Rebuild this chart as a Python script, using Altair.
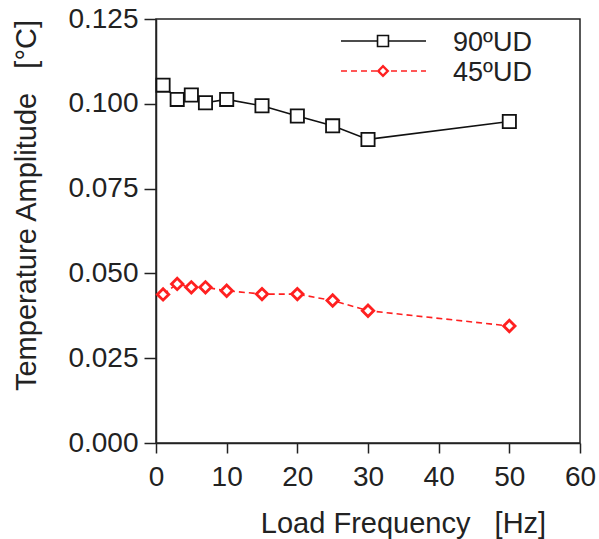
import altair as alt
import pandas as pd

freq = [1, 3, 5, 7, 10, 15, 20, 25, 30, 50]
ud90 = [0.1055, 0.1013, 0.1026, 0.1003, 0.1013, 0.0994, 0.0964, 0.0935, 0.0895, 0.0948]
ud45 = [0.0438, 0.0469, 0.0459, 0.0459, 0.0449, 0.0439, 0.0439, 0.0420, 0.0390, 0.0345]
series_names = ["90ºUD", "45ºUD"]
x_ticks = [0, 10, 20, 30, 40, 50, 60]
y_ticks = [0.0, 0.025, 0.05, 0.075, 0.1, 0.125]

FONT = "Liberation Sans"
TXT = "#222222"
NB = "\u00a0"

df90 = pd.DataFrame({"f": freq, "amp": ud90, "series": series_names[0]})
df45 = pd.DataFrame({"f": freq, "amp": ud45, "series": series_names[1]})

xenc = alt.X("f:Q", scale=alt.Scale(domain=[0, 60], nice=False, zero=False),
             axis=alt.Axis(values=x_ticks, title="Load Frequency" + NB * 3 + "[Hz]", grid=False,
                           tickSize=10, tickWidth=1.5, tickColor="#222", domainColor="#222",
                           domainWidth=1.5, labelFontSize=28, labelFont=FONT, labelColor=TXT,
                           labelPadding=10, titleFont=FONT, titleFontSize=29, titleFontWeight="normal",
                           titleColor=TXT, titleX=247, titleY=89, titleBaseline="alphabetic",
                           labelFlush=False))
yenc = alt.Y("amp:Q", scale=alt.Scale(domain=[0, 0.125], nice=False, zero=False),
             axis=alt.Axis(values=y_ticks, format=".3f", title="Temperature Amplitude" + NB * 3 + "[°C]",
                           grid=False,
                           tickSize=12, tickWidth=1.5, tickColor="#222", domainColor="#222",
                           domainWidth=1.5, labelFontSize=28, labelFont=FONT, labelColor=TXT,
                           labelPadding=6, titleFont=FONT, titleFontSize=29, titleFontWeight="normal",
                           titleColor=TXT, titleX=-121, titleY=186, titleBaseline="alphabetic",
                           titleAngle=-90, labelFlush=False))

line90 = alt.Chart(df90).mark_line(color="#111", strokeWidth=1.6).encode(x=xenc, y=yenc)
pts90 = alt.Chart(df90).mark_point(shape="square", size=175, filled=True, fill="white",
                                    stroke="#111", strokeWidth=1.8, opacity=1).encode(x="f:Q", y="amp:Q")
line45 = alt.Chart(df45).mark_line(color="#ff2020", strokeWidth=1.6, strokeDash=[6, 4]).encode(x="f:Q", y="amp:Q")
pts45 = alt.Chart(df45).mark_point(shape="diamond", size=130, filled=True, fill="white",
                                    stroke="#ff2020", strokeWidth=2.8, opacity=1).encode(x="f:Q", y="amp:Q")

# manual legend
leg1 = pd.DataFrame({"series": [series_names[0]]})
leg2 = pd.DataFrame({"series": [series_names[1]]})
lr1 = alt.Chart(leg1).mark_rule(color="#111", strokeWidth=1.6).encode(
    x=alt.value(185), x2=alt.value(270), y=alt.value(22))
lp1 = alt.Chart(leg1).mark_point(shape="square", size=120, filled=True, fill="white",
                                 stroke="#111", strokeWidth=1.6, opacity=1).encode(
    x=alt.value(227), y=alt.value(22))
lt1 = alt.Chart(leg1).mark_text(align="left", baseline="middle", font=FONT, fontSize=27, color=TXT).encode(
    x=alt.value(297), y=alt.value(24), text="series:N")
lr2 = alt.Chart(leg2).mark_rule(color="#ff2020", strokeWidth=1.6, strokeDash=[6, 4]).encode(
    x=alt.value(185), x2=alt.value(270), y=alt.value(52))
lp2 = alt.Chart(leg2).mark_point(shape="diamond", size=90, filled=True, fill="white",
                                 stroke="#ff2020", strokeWidth=2.4, opacity=1).encode(
    x=alt.value(227), y=alt.value(52))
lt2 = alt.Chart(leg2).mark_text(align="left", baseline="middle", font=FONT, fontSize=27, color=TXT).encode(
    x=alt.value(297), y=alt.value(54), text="series:N")

chart = alt.layer(line90, line45, pts90, pts45, lr1, lp1, lt1, lr2, lp2, lt2).properties(
    width=424, height=424,
    autosize=alt.AutoSizeParams(type="none"),
    padding={"left": 156, "top": 19, "right": 19, "bottom": 96},
    background="white",
).configure_view(stroke="#222", strokeWidth=1.5)

chart.save("out.html", embed_options={"renderer": "svg", "actions": False})
